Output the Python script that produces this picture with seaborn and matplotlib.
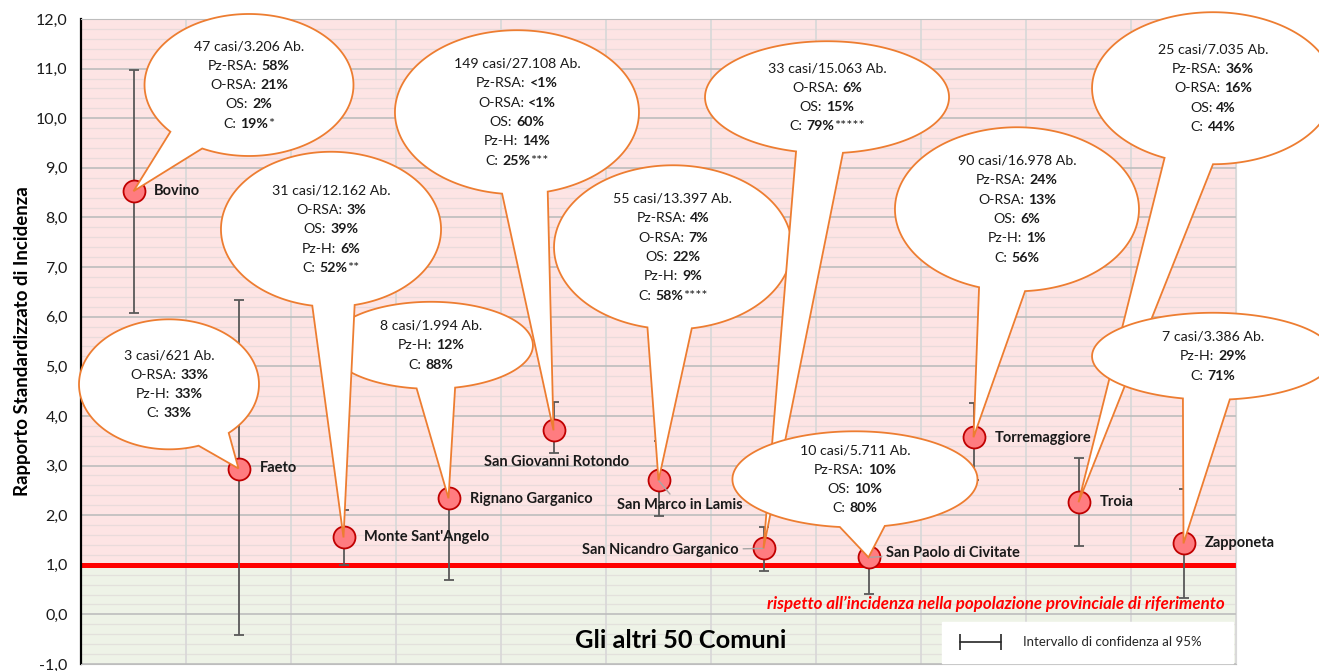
import numpy as np
import pandas as pd
import matplotlib
matplotlib.use("Agg")
import matplotlib.pyplot as plt
import seaborn as sns
from matplotlib.patches import Polygon
from matplotlib.offsetbox import TextArea, HPacker, AnnotationBbox
from matplotlib.ticker import MultipleLocator, FixedLocator, FuncFormatter
from matplotlib.lines import Line2D

# ---------------- data ----------------
comuni = ["Bovino", "Faeto", "Monte Sant'Angelo", "Rignano Garganico",
          "San Giovanni Rotondo", "San Marco in Lamis", "San Nicandro Garganico",
          "San Paolo di Civitate", "Torremaggiore", "Troia", "Zapponeta"]
rsi = [8.53, 2.94, 1.55, 2.34, 3.71, 2.70, 1.33, 1.15, 3.57, 2.26, 1.43]
ci_low = [6.07, -0.42, 0.99, 0.69, 3.25, 1.98, 0.87, 0.42, 2.70, 1.37, 0.34]
ci_high = [10.98, 6.33, 2.10, 4.50, 4.29, 3.50, 1.77, 2.00, 4.27, 3.15, 2.52]
casi = [47, 3, 31, 8, 149, 55, 33, 10, 90, 25, 7]
abitanti = ["3.206", "621", "12.162", "1.994", "27.108", "13.397", "15.063",
            "5.711", "16.978", "7.035", "3.386"]
pz_rsa = ["58%", None, None, None, "<1%", "4%", None, "10%", "24%", "36%", None]
o_rsa = ["21%", "33%", "3%", None, "<1%", "7%", "6%", None, "13%", "16%", None]
os_pct = ["2%", None, "39%", None, "60%", "22%", "15%", "10%", "6%", "4%", None]
pz_h = [None, "33%", "6%", "12%", "14%", "9%", None, None, "1%", None, "29%"]
c_pct = ["19%", "33%", "52%", "88%", "25%", "58%", "79%", "80%", "56%", "44%", "71%"]
note = ["*", "", "**", "", "***", "****", "*****", "", "", "", ""]
categorie = ["Pz-RSA", "O-RSA", "OS", "Pz-H", "C"]
y_ticks = np.arange(-1, 13, 1)
ref_value = 1.0

df = pd.DataFrame({"comune": comuni, "rsi": rsi, "lo": ci_low, "hi": ci_high})

# ---------------- layout (balloons: center, semi-axes, tail base angles, z) ----------------
bal_cx = [1.100, 0.338, 1.881, 2.833, 3.652, 5.138, 6.605, 6.871, 8.414, 10.281, 10.281]
bal_cy = [10.67, 4.637, 7.762, 5.423, 10.121, 7.399, 10.423, 2.722, 8.165, 10.605, 5.202]
bal_a = [0.995, 0.857, 1.048, 0.971, 1.162, 1.133, 1.162, 1.167, 1.162, 1.152, 1.152]
bal_b = [1.431, 1.310, 1.562, 0.877, 1.653, 1.653, 1.129, 0.968, 1.653, 1.532, 0.877]
bal_t1 = [221.2, 289.2, 260.2, 261.9, 263.0, 257.6, 255.3, 262.9, 251.9, 246.4, 255.6]
bal_t2 = [243.4, 311.6, 282.4, 283.7, 284.6, 279.1, 277.5, 284.1, 273.8, 270.0, 278.0]
bal_z = [10, 11, 14, 13, 15, 16, 17, 18, 19, 20, 21]

# point-label offsets in pixels and alignment
lab_dx = [20, 21, 21, 21, 3, 21, -25, 18, 21, 21, 21]
lab_dy = [0, 1, 0, -1, -32, -25, -2, 4, -1, 0, 0]
lab_ha = ["left", "left", "left", "left", "center", "center", "right", "left", "left", "left", "left"]
lab_lead = [False, False, False, False, False, True, True, True, False, False, False]

# ---------------- style ----------------
sns.set_style("white")
plt.rcParams["font.family"] = ["Lato", "DejaVu Sans"]

W, H = 1319, 671
fig = plt.figure(figsize=(W / 100, H / 100), dpi=100)
ax = fig.add_axes([81 / W, 7 / H, (1236 - 81) / W, (664 - 19) / H])

ax.set_xlim(-0.5, len(comuni) - 0.5)
ax.set_ylim(y_ticks[0], y_ticks[-1])

# background bands
ax.axhspan(ref_value, y_ticks[-1], color="#FDE4E4", zorder=0)
ax.axhspan(y_ticks[0], ref_value, color="#EEF3E7", zorder=0)

ax.set_axisbelow(True)
ax.set_yticks(y_ticks)
ax.yaxis.set_minor_locator(MultipleLocator(0.2))
ax.xaxis.set_minor_locator(FixedLocator(np.arange(-0.5, len(comuni), 1)))
ax.grid(which="minor", axis="y", color="#DCD6D6", lw=0.9, alpha=0.6)
ax.grid(which="major", axis="y", color="#BDBDBD", lw=1.2)
ax.grid(which="minor", axis="x", color="#D9D9D9", lw=1.3)
ax.yaxis.set_major_formatter(FuncFormatter(lambda v, p: f"{v:.1f}".replace(".", ",")))
ax.tick_params(axis="y", which="both", length=0, labelsize=11.5, pad=9.5, colors="#1a1a1a")
ax.tick_params(axis="x", which="both", length=0)

for s in ["top", "bottom"]:
    ax.spines[s].set_color("#BDBDBD")
ax.spines["right"].set_color("#D9D9D9")
ax.spines["left"].set_color("black")
ax.spines["left"].set_linewidth(1.6)

# error bars + points
ax.errorbar(x=df["comune"], y=df["rsi"],
            yerr=[df["rsi"] - df["lo"], df["hi"] - df["rsi"]],
            fmt="none", ecolor="#595959", elinewidth=1.3, capsize=3.6, capthick=1.3, zorder=3)
sns.scatterplot(data=df, x="comune", y="rsi", ax=ax, s=250, color="#FF7C80",
                edgecolor="#C00000", linewidth=1.3, zorder=4, legend=False)
ax.set_xticks(range(len(comuni)))
ax.set_xticklabels([])
ax.set_xlabel("")
ax.set_xlim(-0.5, len(comuni) - 0.5)

# reference line
ax.axhline(ref_value, color="#FF0000", lw=3.6, zorder=2.5)

# point labels
for i, name in enumerate(comuni):
    kw = {}
    if lab_lead[i]:
        kw["arrowprops"] = dict(arrowstyle="-", color="#A6A6A6", lw=1.0, shrinkA=1, shrinkB=0)
    ax.annotate(name, xy=(i, rsi[i]), xytext=(lab_dx[i], lab_dy[i]), textcoords="offset pixels",
                ha=lab_ha[i], va="center", fontsize=10.5, fontweight="bold", color="#1a1a1a",
                zorder=5, **kw)

# balloons
line_step = 0.391
fs_bal = 10.2
for i in range(len(comuni)):
    cx, cy, a, b = bal_cx[i], bal_cy[i], bal_a[i], bal_b[i]
    ts = np.radians(np.linspace(bal_t2[i], bal_t1[i] + 360, 240))
    verts = np.column_stack([cx + a * np.cos(ts), cy + b * np.sin(ts)])
    verts = np.vstack([verts, [i, rsi[i]]])
    ax.add_patch(Polygon(verts, closed=True, fc="white", ec="#ED7D31", lw=1.3,
                         zorder=bal_z[i], clip_on=False))
    lines = [[(f"{casi[i]} casi/{abitanti[i]} Ab.", "normal")]]
    for cat, vals in zip(categorie, [pz_rsa, o_rsa, os_pct, pz_h, c_pct]):
        if vals[i] is not None:
            parts = [(cat + ":", "normal"), (vals[i], "bold")]
            if cat == "C" and note[i]:
                parts.append((note[i], "normal"))
            lines.append(parts)
    n = len(lines)
    for k, parts in enumerate(lines):
        y = cy + (n - 1) / 2 * line_step - k * line_step
        children = []
        for j, (txt, wt) in enumerate(parts):
            children.append(TextArea(txt, textprops=dict(fontsize=fs_bal, fontweight=wt, color="#1a1a1a")))
        if len(children) > 2:
            box = HPacker(children=[children[0], HPacker(children=children[1:], align="baseline", pad=0, sep=0)],
                          align="baseline", pad=0, sep=3)
        else:
            box = HPacker(children=children, align="baseline", pad=0, sep=3)
        ab = AnnotationBbox(box, (cx, y), frameon=False, box_alignment=(0.5, 0.5), pad=0,
                            annotation_clip=False, zorder=bal_z[i] + 0.5)
        ax.add_artist(ab)

# texts
ax.text(0.9905, 0.093, "rispetto all\u2019incidenza nella popolazione provinciale di riferimento",
        transform=ax.transAxes, ha="right", va="center", color="#FF0000", fontsize=12.2,
        fontweight="bold", style="italic", zorder=6)
ax.text(0.519, 0.037, "Gli altri 50 Comuni", transform=ax.transAxes, ha="center", va="center",
        fontsize=18.3, fontweight="bold", color="black", zorder=6)

ax.set_ylabel("Rapporto Standardizzato di Incidenza", fontsize=13.4, fontweight="bold", color="black")
ax.yaxis.set_label_coords(-0.043, 0.5)

# legend
h = Line2D([], [], color="#262626", lw=1.2, marker="|", markersize=11, markeredgewidth=1.2)
leg = ax.legend([h], ["Intervallo di confidenza al 95%     "], loc="lower right",
                bbox_to_anchor=((1233 - 81) / 1155, 1 / 645), borderaxespad=0, numpoints=2,
                handlelength=3.7, handletextpad=1.36, borderpad=1.1, fontsize=9.5,
                frameon=True, fancybox=False, framealpha=1, edgecolor="white", facecolor="white")
leg.set_zorder(30)

fig.savefig("out.png", dpi=100)
